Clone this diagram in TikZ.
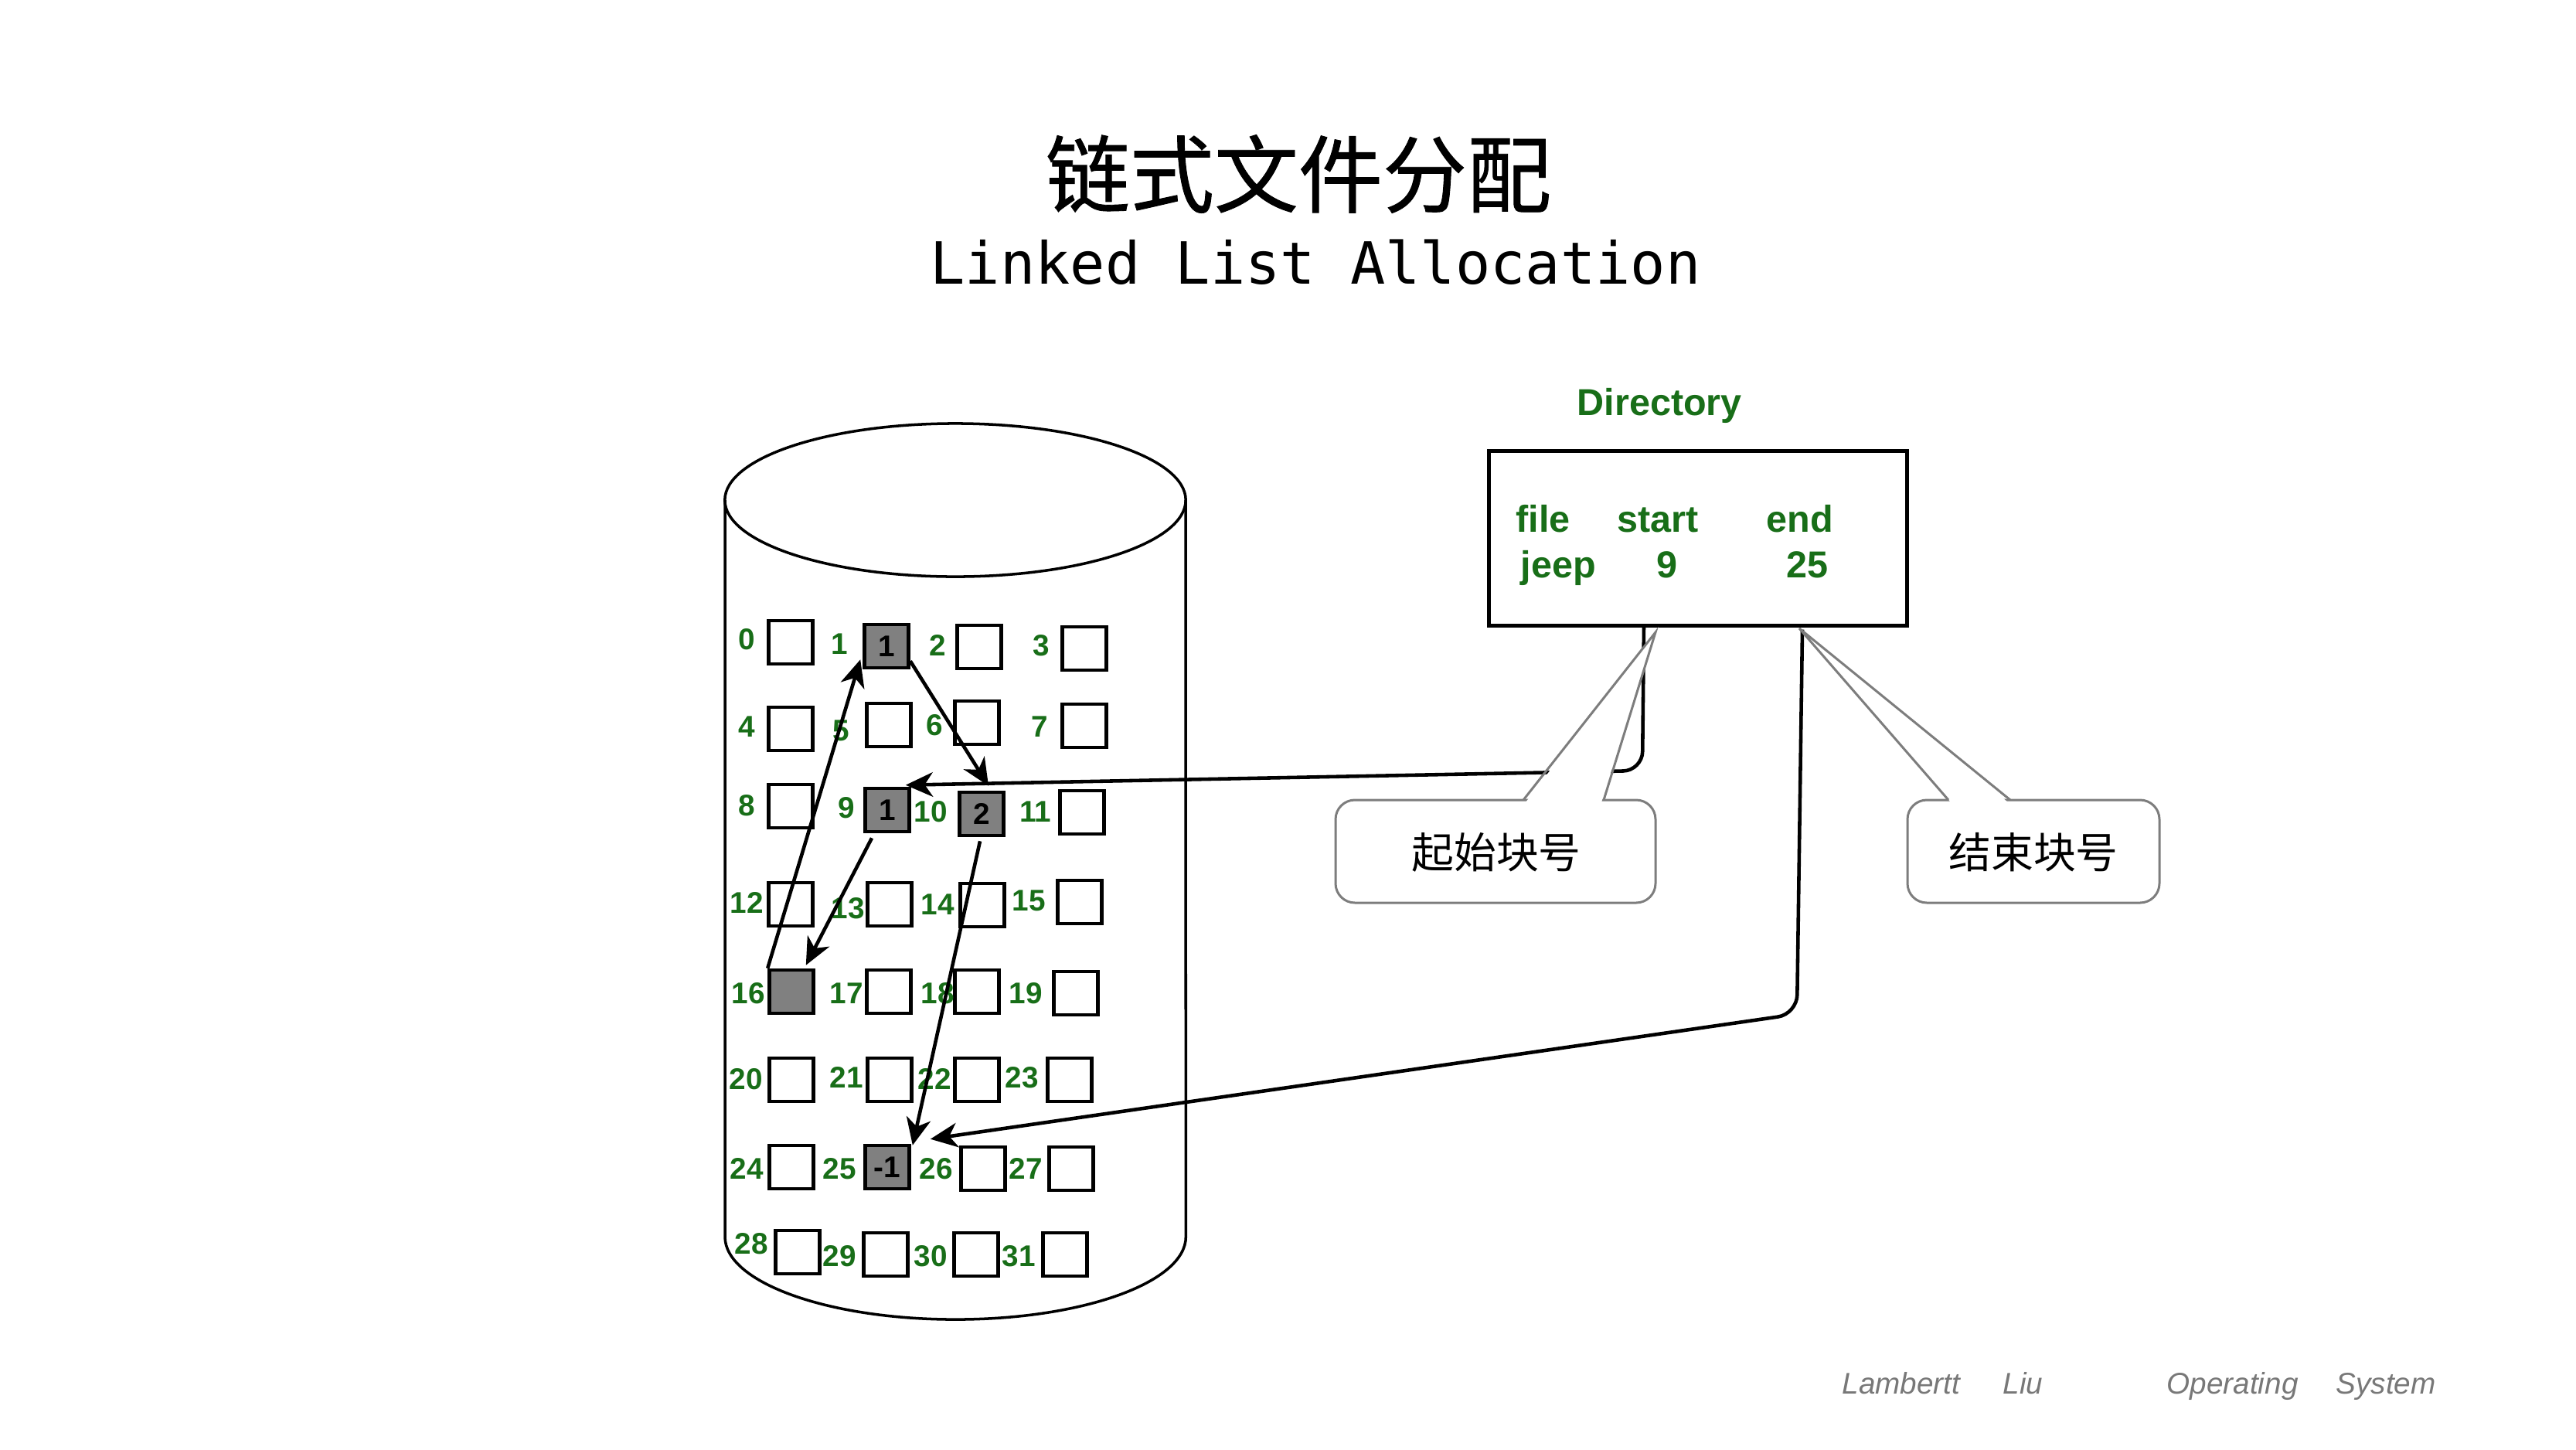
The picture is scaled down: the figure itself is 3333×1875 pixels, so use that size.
\documentclass[tikz,border=0pt]{standalone}
\usepackage{fontspec}
\setmainfont{Liberation Sans}
\newfontfamily\cjk{Noto Sans CJK SC}
\newfontfamily\cjktitle{Noto Sans CJK SC}[FakeBold=0.8]
\newfontfamily\monof{DejaVu Sans Mono}
\usetikzlibrary{arrows.meta,calc}
\definecolor{lblgreen}{RGB}{24,110,24}
\definecolor{cellgray}{RGB}{128,128,128}
\definecolor{callgray}{RGB}{125,125,125}
\definecolor{footgray}{RGB}{120,120,120}
\begin{document}
\begin{tikzpicture}[x=0.01cm,y=-0.01cm,
  cell/.style={draw=black, line width=1.3pt, minimum width=0.57cm, minimum height=0.56cm, inner sep=0pt, fill=white},
  usedcell/.style={cell, fill=cellgray, font=\fontsize{11}{12}\selectfont\bfseries},
  num/.style={text=lblgreen, font=\fontsize{11}{12}\selectfont\bfseries, inner sep=0pt},
  link/.style={line width=1.3pt, -{Stealth[length=10pt,width=9pt,inset=3pt]}},
  cyl/.style={line width=1pt},
  callout/.style={draw=callgray, line width=0.85pt},
  dirtext/.style={text=lblgreen, font=\fontsize{13.8}{15}\selectfont\bfseries, inner sep=0pt, anchor=base west},
  foot/.style={text=footgray, font=\fontsize{11}{12}\selectfont\itshape, inner sep=0pt, anchor=base west}
]
% page
\path[use as bounding box, fill=white] (0,0) rectangle (3333,1875);

% titles
\node[inner sep=0pt] (title) at (1680,225) {\cjktitle\fontsize{31}{31}\selectfont 链式文件分配};
\node[inner sep=0pt, anchor=base] (subtitle) at (1702,367) {\monof\fontsize{21.4}{22}\selectfont Linked List Allocation};

% cylinder
\draw[cyl] (938,647) -- (938,1600) arc[start angle=180, end angle=360, x radius=2.98cm, y radius=1.07cm] -- (1534,647);
\draw[cyl] (1236,647) ellipse [x radius=2.98cm, y radius=0.99cm];

% empty cells
\foreach \i/\x/\y in {0/1023/831, 2/1267/837, 3/1403/839,
  4/1023/943, 5/1150/938, 6/1264/935, 7/1403/939,
  8/1023/1043, 11/1400/1051,
  12/1023/1170, 13/1151/1170, 14/1271/1171, 15/1397/1167,
  17/1150/1283, 18/1264/1283, 19/1392/1285,
  20/1024/1397, 21/1151/1397, 22/1264/1397, 23/1384/1397,
  24/1024/1510, 26/1272/1512, 27/1386/1512,
  28/1032/1620, 29/1146/1623, 30/1263/1623, 31/1378/1623}
  \node[cell] (b\i) at (\x,\y) {};
% used cells
\node[usedcell] (b1) at (1147,836) {1};
\node[usedcell] (b9) at (1148,1048) {1};
\node[usedcell] (b10) at (1270,1053) {2};
\node[usedcell] (b16) at (1024,1283) {};
\node[usedcell] (b25) at (1148,1510) {-1};

% block numbers
\foreach \i/\x/\y in {0/966/827, 1/1086/833, 2/1213/835, 3/1347/835,
  4/966/940, 5/1088/945, 6/1209/938, 7/1345/940,
  8/966/1042, 9/1095/1045, 10/1204/1050, 11/1340/1050,
  12/966/1168, 13/1097/1175, 14/1213/1170, 15/1331/1165,
  16/968/1285, 17/1095/1285, 18/1213/1285, 19/1327/1285,
  20/965/1396, 21/1095/1394, 22/1209/1396, 23/1322/1394,
  24/966/1512, 25/1086/1512, 26/1211/1512, 27/1327/1512,
  28/972/1609, 29/1086/1625, 30/1204/1625, 31/1318/1625}
  \node[num] (l\i) at (\x,\y) {\i};

% chain links
\draw[link] (b16.north west) -- ($(b1.south west)+(-3,-13)$);
\draw[link] ($(b1.south east)+(0,-11)$) -- ($(b10.north)+(9,-6)$);
\draw[link] ($(b9.south)+(-20,6)$) -- ($(b16.north east)+(-12,-4)$);
\draw[link] ($(b10.south)+(-2,5)$) -- ($(b25.north east)+(2,2)$);

% directory
\node[text=lblgreen, font=\fontsize{13.8}{15}\selectfont\bfseries, inner sep=0pt, anchor=base west] (dirlabel) at (2040,537) {Directory};
\node[draw=black, line width=1.4pt, minimum width=5.4cm, minimum height=2.25cm, inner sep=0pt] (dir) at (2197,696.5) {};
\node[dirtext] (hfile) at (1961,688) {file};
\node[dirtext] (hstart) at (2092,688) {start};
\node[dirtext] (hend) at (2285,688) {end};
\node[dirtext] (vfile) at (1967,747) {jeep};
\node[dirtext] (vstart) at (2143,747) {9};
\node[dirtext] (vend) at (2311,747) {25};

% directory pointers
\coordinate (ds) at ($(dir.south)+(-70,-3)$);
\coordinate (dc) at (2125,997);
\coordinate (de) at ($(dir.south)+(135,3)$);
\coordinate (ec) at (2325,1312);
\draw[link, rounded corners=0.25cm] (ds) -- (dc) -- ($(b9.north east)+(-7,-2)$);
\draw[link, rounded corners=0.25cm] (de) -- (ec) -- ($(b25.north east)+(25,-6)$);

% callout 1
\draw[callout, fill=white, rounded corners=0.25cm] (1728,1035) rectangle (2142,1168);
\fill[white] (1974,1038) -- (2142,818) -- (2072,1038) -- cycle;
\draw[callout, line join=miter] (1971,1035) -- (2142,818) -- (2075,1035);
\node[inner sep=0pt] (c1) at (1936,1103) {\cjk\fontsize{15.6}{16}\selectfont 起始块号};

% callout 2
\draw[callout, fill=white, rounded corners=0.25cm] (2468,1035) rectangle (2794,1168);
\fill[white] (2524,1038) -- (2328,813) -- (2598,1038) -- cycle;
\draw[callout] (2521,1035) -- (2328,813) -- (2601,1035);
\node[inner sep=0pt] (c2) at (2631,1103) {\cjk\fontsize{15.6}{16}\selectfont 结束块号};

% footer
\node[foot] (f1) at (2383,1803) {Lambertt};
\node[foot] (f2) at (2591,1803) {Liu};
\node[foot] (f3) at (2803,1803) {Operating};
\node[foot] (f4) at (3022,1803) {System};
\end{tikzpicture}
\end{document}
